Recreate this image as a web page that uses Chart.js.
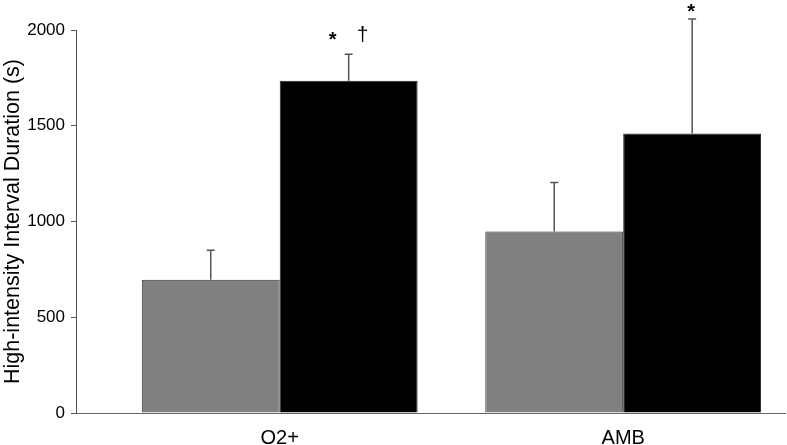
<!DOCTYPE html>
<html>
<head>
<meta charset="utf-8">
<script src="https://cdn.jsdelivr.net/npm/chart.js@4.4.1/dist/chart.umd.min.js"></script>
<style>
  html, body { margin: 0; padding: 0; background: #fff; }
  #wrap { width: 787px; height: 445px; }
</style>
</head>
<body>
<div id="wrap"><canvas id="myChart"></canvas></div>
<script>
// data
const categories = ['O2+', 'AMB'];
const categoryIndex = [1, 2];
const grayValues = [696, 948];
const grayErrors = [154, 256];
const blackValues = [1735, 1459];
const blackErrors = [139, 599];
const blackMarks = [['*', '†'], ['*']];
const yTicks = [0, 500, 1000, 1500, 2000];

function toPoints(vals) {
    return vals.map((v, i) => ({ x: categoryIndex[i], y: v }));
}

// error bars (upper side only) and significance marks
const errorBarPlugin = {
    id: 'errorBars',
    afterDatasetsDraw(chart) {
        const ctx = chart.ctx;
        const yScale = chart.scales.y;
        const errs = [grayErrors, blackErrors];
        ctx.save();
        ctx.strokeStyle = '#555';
        ctx.lineWidth = 1.5;
        chart.data.datasets.forEach((ds, di) => {
            const meta = chart.getDatasetMeta(di);
            meta.data.forEach((bar, i) => {
                const top = yScale.getPixelForValue(ds.data[i].y + errs[di][i]);
                ctx.beginPath();
                ctx.moveTo(bar.x, bar.y);
                ctx.lineTo(bar.x, top);
                ctx.moveTo(bar.x - 4, top);
                ctx.lineTo(bar.x + 4, top);
                ctx.stroke();

                if (di === 1) {
                    const marks = blackMarks[i];
                    const cy = Math.max(top - 19, 7); // centre line of the marks
                    ctx.fillStyle = '#000';
                    ctx.textAlign = 'center';
                    ctx.textBaseline = 'alphabetic';
                    marks.forEach((m, k) => {
                        let dx = 0;
                        if (marks.length > 1) dx = k === 0 ? -15 : 14;
                        if (m === '*') {
                            ctx.font = 'bold 20px "Liberation Sans", Arial, sans-serif';
                            ctx.fillText(m, bar.x + dx - 1, cy + 11);
                        } else {
                            ctx.font = '21px "Liberation Sans", Arial, sans-serif';
                            ctx.fillText(m, bar.x + dx, cy + 6);
                        }
                    });
                }
            });
        });
        ctx.restore();
    }
};

const ctx = document.getElementById('myChart').getContext('2d');
const myChart = new Chart(ctx, {
    type: 'bar',
    data: {
        datasets: [{
            label: 'gray',
            data: toPoints(grayValues),
            backgroundColor: '#808080',
            borderColor: '#333',
            borderWidth: 1,
            categoryPercentage: 0.803,
            barPercentage: 1
        }, {
            label: 'black',
            data: toPoints(blackValues),
            backgroundColor: '#000',
            borderColor: '#222',
            borderWidth: 1,
            categoryPercentage: 0.803,
            barPercentage: 1
        }]
    },
    options: {
        responsive: true,
        maintainAspectRatio: false,
        animation: false,
        layout: { padding: { left: 0, right: 2, top: 30, bottom: 0 } },
        plugins: {
            legend: { display: false },
            tooltip: { enabled: false }
        },
        scales: {
            x: {
                type: 'linear',
                offset: false,
                min: 0.407,
                max: 2.471,
                afterBuildTicks: (scale) => {
                    scale.ticks = categoryIndex.map(v => ({ value: v }));
                },
                afterFit: (scale) => { scale.height = 32; },
                ticks: {
                    callback: (v) => categories[categoryIndex.indexOf(v)],
                    color: '#000',
                    font: { family: '"Liberation Sans", Arial, sans-serif', size: 20 },
                    padding: 5,
                    maxRotation: 0
                },
                grid: { display: false },
                border: { display: true, color: '#666', width: 1 }
            },
            y: {
                min: 0,
                max: 2000,
                afterBuildTicks: (scale) => {
                    scale.ticks = yTicks.map(v => ({ value: v }));
                },
                afterFit: (scale) => { scale.width = 76; },
                ticks: {
                    callback: (v) => String(v),
                    color: '#000',
                    font: { family: '"Liberation Sans", Arial, sans-serif', size: 17 },
                    padding: 6
                },
                grid: {
                    display: true,
                    drawOnChartArea: false,
                    drawTicks: true,
                    tickLength: 5,
                    color: '#555'
                },
                border: { display: true, color: '#555', width: 1 },
                title: {
                    display: true,
                    text: 'High-intensity Interval Duration (s)',
                    color: '#000',
                    font: { family: '"Liberation Sans", Arial, sans-serif', size: 21.5 },
                    padding: { top: 0, bottom: 0 }
                }
            }
        }
    },
    plugins: [errorBarPlugin]
});
</script>
</body>
</html>
